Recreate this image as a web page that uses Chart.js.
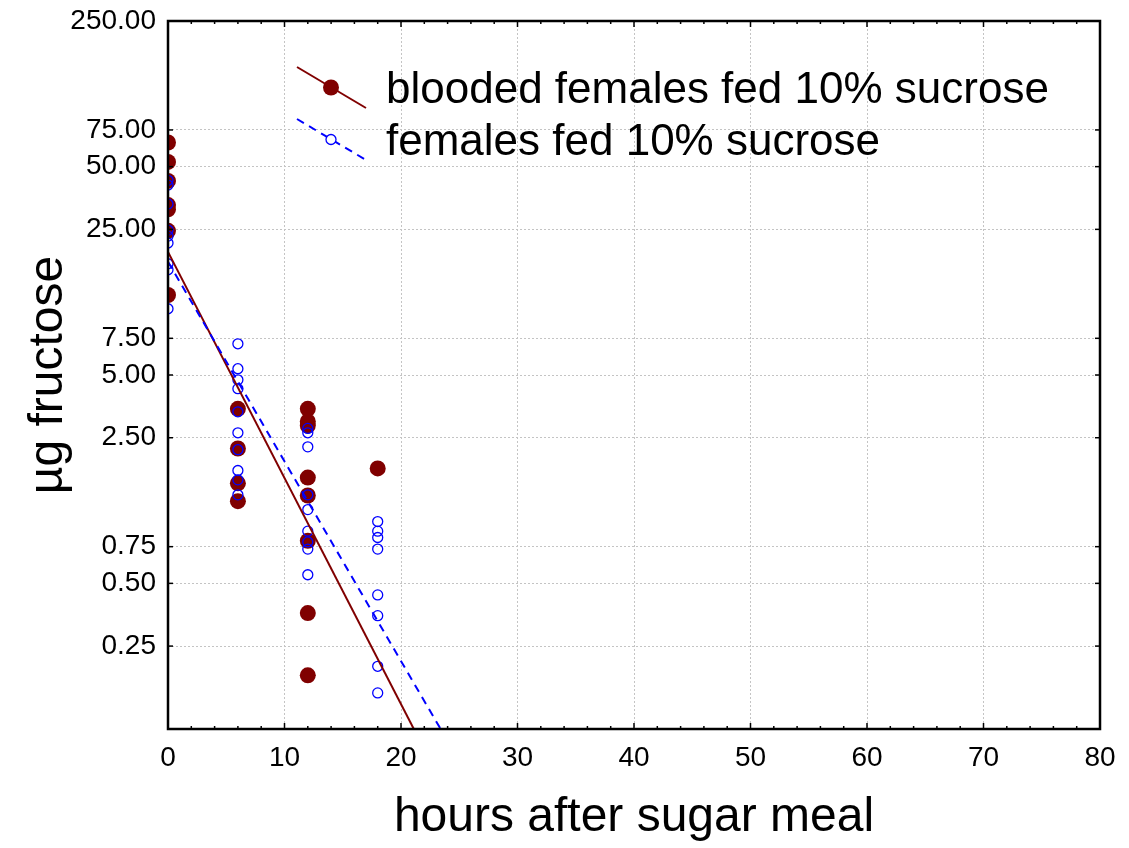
<!DOCTYPE html>
<html>
<head>
<meta charset="utf-8">
<title>fructose</title>
<script src="https://cdn.jsdelivr.net/npm/chart.js@4.4.1/dist/chart.umd.min.js"></script>
<style>
  body { margin: 0; background: #fff; }
  #wrap { width: 1129px; height: 848px; }
</style>
</head>
<body>
<div id="wrap"><canvas id="fructoseChart"></canvas></div>
<script>
// Veriler
const bloodedHours = [0, 0, 0, 0, 0, 0, 0, 6, 6, 6, 6, 12, 12, 12, 12, 12, 12, 12, 12, 18];
const bloodedFructose = [65.3, 52.7, 42.7, 32.7, 31.2, 24.6, 12.1, 3.44, 2.22, 1.51, 1.24,
    3.44, 2.99, 2.86, 1.61, 1.32, 0.80, 0.36, 0.181, 1.78];

const sugarHours = [0, 0, 0, 0, 0, 0, 0, 0, 0,
    6, 6, 6, 6, 6, 6, 6, 6, 6, 6,
    12, 12, 12, 12, 12, 12, 12, 12, 12,
    18, 18, 18, 18, 18, 18, 18, 18];
const sugarFructose = [43, 40.8, 33.1, 24.8, 23.2, 21.5, 17.1, 16.0, 10.4,
    7.06, 5.36, 4.74, 4.30, 3.33, 2.64, 2.19, 1.74, 1.57, 1.33,
    2.77, 2.64, 2.26, 1.33, 1.13, 0.89, 0.79, 0.73, 0.55,
    0.99, 0.89, 0.83, 0.73, 0.44, 0.35, 0.20, 0.149];

// Regresyon çizgileri
const fitBloodedHours = [0, 21.1];
const fitBloodedFructose = [19.5, 0.1];
const fitSugarHours = [0, 23.4];
const fitSugarFructose = [17.5, 0.1];

const xTickValues = [0, 10, 20, 30, 40, 50, 60, 70, 80];
const yTickValues = [250, 75, 50, 25, 7.5, 5, 2.5, 0.75, 0.5, 0.25];

const legendLabels = ['blooded females fed 10% sucrose', 'females fed 10% sucrose'];

const BROWN = '#800000';
const BLUE = '#0000ff';
const GRID = '#c4c4c4';

const toPoints = (xs, ys) => xs.map((x, i) => ({ x: x, y: ys[i] }));

Chart.defaults.font.family = '"Liberation Sans", Arial, sans-serif';
Chart.defaults.color = '#000';

// Çerçeve, iç tik çizgileri ve açıklama
const framePlugin = {
    id: 'framePlugin',
    afterDatasetsDraw(chart) {
        const { ctx, chartArea: a, scales: { x, y } } = chart;
        const seg = (x1, y1, x2, y2) => {
            ctx.beginPath();
            ctx.moveTo(x1, y1);
            ctx.lineTo(x2, y2);
            ctx.stroke();
        };
        ctx.save();
        ctx.strokeStyle = '#000';
        ctx.lineWidth = 1.5;
        for (let v = 0; v <= 80; v += 2) {
            const px = x.getPixelForValue(v);
            const len = v % 10 === 0 ? 6 : 3;
            seg(px, a.bottom, px, a.bottom - len);
            seg(px, a.top, px, a.top + len);
        }
        yTickValues.forEach(v => {
            const py = y.getPixelForValue(v);
            seg(a.left, py, a.left + 5, py);
            seg(a.right, py, a.right - 5, py);
        });
        ctx.lineWidth = 2.5;
        ctx.strokeRect(a.left, a.top, a.right - a.left, a.bottom - a.top);

        // açıklama
        const lx = a.left + 129;
        const rows = [
            { top: a.top + 46, color: BROWN, dash: [], r: 8, fill: true },
            { top: a.top + 98, color: BLUE, dash: [8, 6], r: 5, fill: false }
        ];
        rows.forEach((row, i) => {
            ctx.strokeStyle = row.color;
            ctx.lineWidth = 2;
            ctx.setLineDash(row.dash);
            seg(lx, row.top, lx + 69, row.top + 41);
            ctx.setLineDash([]);
            ctx.beginPath();
            ctx.arc(lx + 34, row.top + 20.5, row.r, 0, Math.PI * 2);
            if (row.fill) {
                ctx.fillStyle = row.color;
                ctx.fill();
            } else {
                ctx.fillStyle = '#fff';
                ctx.fill();
                ctx.lineWidth = 1.3;
                ctx.stroke();
            }
            ctx.fillStyle = '#000';
            ctx.font = '44px "Liberation Sans", Arial, sans-serif';
            ctx.textBaseline = 'alphabetic';
            ctx.textAlign = 'left';
            ctx.fillText(legendLabels[i], lx + 89, row.top + 36);
        });
        ctx.restore();
    }
};

new Chart(document.getElementById('fructoseChart'), {
    type: 'scatter',
    data: {
        datasets: [
            {
                label: legendLabels[0],
                data: toPoints(bloodedHours, bloodedFructose),
                pointRadius: 8,
                pointHoverRadius: 8,
                backgroundColor: BROWN,
                borderColor: BROWN,
                borderWidth: 0,
                clip: 0,
                order: 4
            },
            {
                label: legendLabels[1],
                data: toPoints(sugarHours, sugarFructose),
                pointRadius: 5,
                pointHoverRadius: 5,
                backgroundColor: 'rgba(0,0,0,0)',
                borderColor: BLUE,
                borderWidth: 1.3,
                clip: 0,
                order: 3
            },
            {
                data: toPoints(fitBloodedHours, fitBloodedFructose),
                showLine: true,
                pointRadius: 0,
                borderColor: BROWN,
                borderWidth: 2,
                clip: 0,
                order: 2
            },
            {
                data: toPoints(fitSugarHours, fitSugarFructose),
                showLine: true,
                pointRadius: 0,
                borderColor: BLUE,
                borderWidth: 2,
                borderDash: [8, 6],
                clip: 0,
                order: 1
            }
        ]
    },
    options: {
        responsive: true,
        maintainAspectRatio: false,
        animation: false,
        layout: { padding: { left: 0, top: 21, right: 29, bottom: 0 } },
        plugins: {
            legend: { display: false },
            tooltip: { enabled: false }
        },
        scales: {
            x: {
                type: 'linear',
                min: 0,
                max: 80,
                afterBuildTicks: scale => { scale.ticks = xTickValues.map(v => ({ value: v })); },
                afterFit: scale => {
                    scale.height = 119;
                    scale.paddingLeft = 0;
                    scale.paddingRight = 0;
                },
                ticks: { font: { size: 28 }, padding: 12, maxRotation: 0 },
                grid: { color: GRID, drawTicks: false },
                border: { display: false, dash: [2, 2] },
                title: {
                    display: true,
                    text: 'hours after sugar meal',
                    font: { size: 48 },
                    padding: { top: 0, bottom: 1 }
                }
            },
            y: {
                type: 'logarithmic',
                min: 0.1,
                max: 250,
                afterBuildTicks: scale => { scale.ticks = yTickValues.map(v => ({ value: v })); },
                afterFit: scale => {
                    scale.width = 168;
                    scale.paddingTop = 0;
                    scale.paddingBottom = 0;
                },
                ticks: {
                    font: { size: 28 },
                    padding: 12,
                    callback: v => Number(v).toFixed(2)
                },
                grid: {
                    color: ctx => (ctx.tick && ctx.tick.value === 250 ? 'rgba(0,0,0,0)' : GRID),
                    drawTicks: false
                },
                border: { display: false, dash: [2, 2] },
                title: {
                    display: true,
                    text: 'µg fructose',
                    font: { size: 48 },
                    padding: { top: 20, bottom: 0 }
                }
            }
        }
    },
    plugins: [framePlugin]
});
</script>
</body>
</html>
